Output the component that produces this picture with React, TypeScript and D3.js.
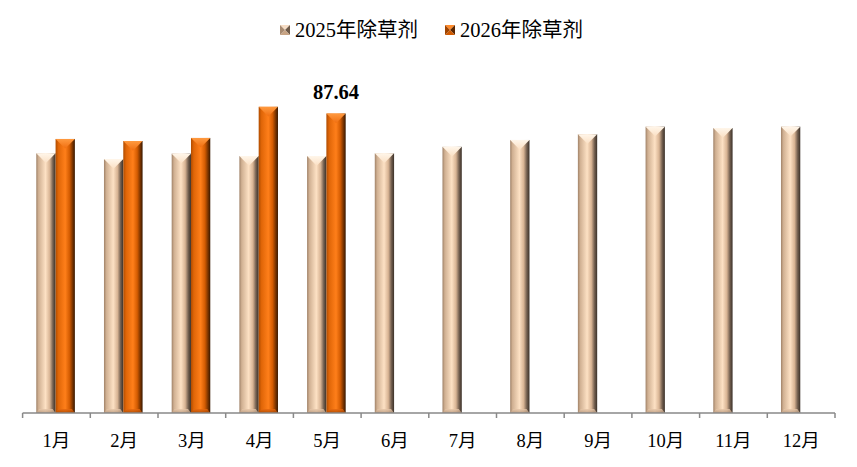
import React from "react";
import * as d3 from "d3";

const months = ["1月", "2月", "3月", "4月", "5月", "6月", "7月", "8月", "9月", "10月", "11月", "12月"];
const seriesNames = ["2025年除草剂", "2026年除草剂"];
const values2025 = [76.0, 74.3, 75.9, 75.2, 75.2, 76.0, 77.9, 79.9, 81.6, 83.8, 83.4, 83.8];
const values2026 = [80.2, 79.6, 80.5, 89.6, 87.64];
const labelled = { series: 1, index: 4, text: "87.64" };

const W = 857;
const H = 467;
const baseY = 413;
const FONT = "'Liberation Serif', 'Times New Roman', 'Noto Sans CJK SC', serif";

export default function App() {
  const x = d3.scaleBand<string>().domain(months).range([22.6, 835]).paddingInner(0).paddingOuter(0);
  const xs = d3
    .scaleBand<string>()
    .domain(["s0", "s1"])
    .range([0, x.bandwidth()])
    .paddingInner(0)
    .paddingOuter(0.754)
    .align(0.47);
  const y = d3.scaleLinear().domain([0, 100]).range([baseY, baseY - 341.7]);

  const bw = xs.bandwidth();
  const series = [values2025, values2026];
  const ticks = d3.range(months.length + 1).map((i) => 22.6 + i * x.step());

  const bar = (s: number, i: number, v: number) => {
    const bx = (x(months[i]) as number) + (xs("s" + s) as number);
    const by = y(v);
    const h = baseY - by;
    const bev = bw / 2;
    const id = s === 0 ? "a" : "b";
    return (
      <g key={s + "-" + i}>
        <rect x={bx} y={by} width={bw} height={h} fill={`url(#body${id})`} />
        <polygon
          points={`${bx},${by} ${bx + bw},${by} ${bx + bw / 2},${by + bev}`}
          fill={`url(#top${id})`}
        />
        <polygon
          points={`${bx},${baseY} ${bx + bw},${baseY} ${bx + bw - 3},${baseY - 4} ${bx + 3},${baseY - 4}`}
          fill={`url(#bot${id})`}
          opacity={0.8}
        />
      </g>
    );
  };

  const legendMarker = (mx: number, my: number, id: string) => {
    const s = 10;
    const c = [mx + s / 2, my + s / 2];
    const cols = id === "a" ? ["#f6dcc4", "#c8a484", "#6e5a48", "#a88a70"] : ["#ff8a2a", "#d05a00", "#5a2600", "#a04400"];
    return (
      <g>
        <polygon points={`${mx},${my} ${mx + s},${my} ${c[0]},${c[1]}`} fill={cols[0]} />
        <polygon points={`${mx + s},${my} ${mx + s},${my + s} ${c[0]},${c[1]}`} fill={cols[2]} />
        <polygon points={`${mx},${my + s} ${mx + s},${my + s} ${c[0]},${c[1]}`} fill={cols[1]} />
        <polygon points={`${mx},${my} ${mx},${my + s} ${c[0]},${c[1]}`} fill={cols[3]} />
      </g>
    );
  };

  const lx = (x(months[labelled.index]) as number) + (xs("s" + labelled.series) as number) + bw / 2;
  const ly = y(series[labelled.series][labelled.index]) - 15;

  return (
    <svg
      width={W}
      height={H}
      style={{ position: "absolute", left: 0, top: 0, background: "#fff" }}
      fontFamily={FONT}
    >
      <defs>
        <linearGradient id="bodya" x1="0" x2="1" y1="0" y2="0">
          <stop offset="0" stopColor="#a08268" />
          <stop offset="0.12" stopColor="#d0b092" />
          <stop offset="0.48" stopColor="#fde1c4" />
          <stop offset="0.7" stopColor="#d8b494" />
          <stop offset="0.86" stopColor="#746050" />
          <stop offset="1" stopColor="#3a3028" />
        </linearGradient>
        <linearGradient id="bodyb" x1="0" x2="1" y1="0" y2="0">
          <stop offset="0" stopColor="#b04c00" />
          <stop offset="0.15" stopColor="#e06608" />
          <stop offset="0.5" stopColor="#ff7f1a" />
          <stop offset="0.72" stopColor="#d45c02" />
          <stop offset="0.88" stopColor="#7a3400" />
          <stop offset="1" stopColor="#381800" />
        </linearGradient>
        <linearGradient id="topa" x1="0" x2="0" y1="0" y2="1">
          <stop offset="0" stopColor="#fff6ea" />
          <stop offset="1" stopColor="#fbe0c4" />
        </linearGradient>
        <linearGradient id="topb" x1="0" x2="0" y1="0" y2="1">
          <stop offset="0" stopColor="#ff9a40" />
          <stop offset="1" stopColor="#f06e10" />
        </linearGradient>
        <linearGradient id="bota" x1="0" x2="0" y1="0" y2="1">
          <stop offset="0" stopColor="#e8c8aa" />
          <stop offset="1" stopColor="#b89a80" />
        </linearGradient>
        <linearGradient id="botb" x1="0" x2="0" y1="0" y2="1">
          <stop offset="0" stopColor="#e86a10" />
          <stop offset="1" stopColor="#a84600" />
        </linearGradient>
      </defs>

      {series.map((vals, s) => vals.map((v, i) => bar(s, i, v)))}

      <line x1={22.6} x2={835} y1={baseY} y2={baseY} stroke="#898989" strokeWidth={1.5} />
      {ticks.map((t, i) => (
        <line key={i} x1={t} x2={t} y1={baseY} y2={baseY + 5} stroke="#898989" strokeWidth={1.5} />
      ))}
      {months.map((m) => (
        <text
          key={m}
          x={(x(m) as number) + x.bandwidth() / 2}
          y={447}
          textAnchor="middle"
          fontSize={18.5}
          fill="#000"
        >
          {m}
        </text>
      ))}

      <text x={lx} y={ly} textAnchor="middle" fontSize={20.5} fontWeight="bold" fill="#000">
        {labelled.text}
      </text>

      {legendMarker(280, 25, "a")}
      <text x={295} y={36.5} fontSize={20.5} fill="#000">
        {seriesNames[0]}
      </text>
      {legendMarker(445, 25, "b")}
      <text x={460} y={36.5} fontSize={20.5} fill="#000">
        {seriesNames[1]}
      </text>
    </svg>
  );
}
